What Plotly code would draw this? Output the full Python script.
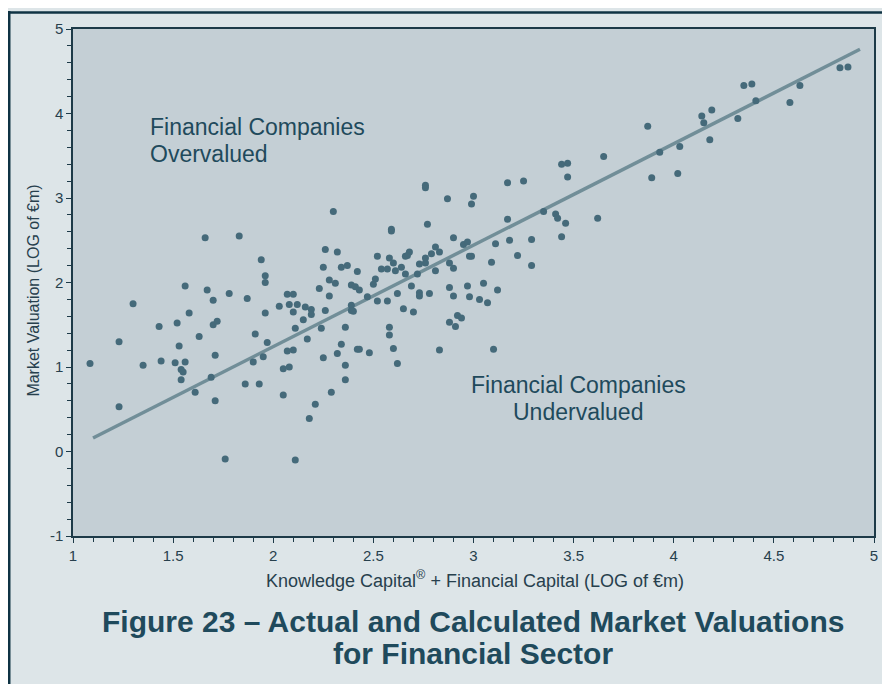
import plotly.graph_objects as go

# ---- data ----
x_vals = [
    1.085, 1.23, 1.23, 1.30, 1.35, 1.43, 1.44, 1.51, 1.56, 1.53, 1.52, 1.56, 1.58, 1.54, 1.55, 1.54,
    1.61, 1.66, 1.63, 1.67, 1.70, 1.70, 1.72, 1.71, 1.69, 1.71, 1.76, 1.83, 1.78, 1.87, 1.91, 1.90,
    1.95, 1.97, 1.86, 1.93, 1.94, 1.96, 1.96, 1.96, 2.03, 2.07, 2.10, 2.08, 2.12, 2.10, 2.16, 2.19,
    2.15, 2.19, 2.11, 2.17, 2.07, 2.10, 2.05, 2.08, 2.05, 2.21, 2.18, 2.11, 2.25, 2.24, 2.26, 2.23,
    2.25, 2.26,
    3.44, 3.47, 3.47, 2.76, 2.76, 2.87, 3.00, 2.99, 3.17, 3.25, 2.30, 2.59, 2.59, 2.77, 3.17, 3.35,
    3.41, 3.42, 3.46, 3.62, 3.44, 3.29, 3.18, 3.11, 3.22, 3.29, 3.09, 2.90, 2.95, 2.97, 2.98, 2.99,
    2.88, 2.90, 2.81, 2.83, 2.79, 2.76, 2.76, 2.73, 2.81, 2.68, 2.66, 2.67, 2.52, 2.58, 2.60, 2.64,
    2.61, 2.57, 2.54, 2.66, 2.72, 2.32, 2.34, 2.37, 2.42, 2.28, 2.31, 2.51, 2.50, 2.39, 2.41, 2.43,
    2.28, 2.47, 2.69, 2.62, 2.73, 2.73, 2.78, 2.88, 2.90, 2.97, 3.05, 3.12, 2.98, 3.03, 3.07, 2.52,
    2.57, 2.39, 2.39, 2.40, 2.65, 2.70, 2.36, 2.58, 2.58, 2.34, 2.32, 2.42, 2.43, 2.48, 2.60, 2.62,
    2.36, 2.36, 2.29, 2.83, 2.88, 2.91, 2.92, 2.94, 3.10,
    4.83, 4.87, 4.63, 4.58, 4.35, 4.39, 4.41, 4.32, 4.14, 4.19, 4.15, 4.18, 4.03, 3.93, 3.87, 3.89,
    4.02, 3.65,
]
y_vals = [
    1.04, 1.30, 0.53, 1.75, 1.02, 1.48, 1.07, 1.05, 1.06, 1.25, 1.52, 1.96, 1.64, 0.97, 0.94, 0.85,
    0.70, 2.53, 1.36, 1.91, 1.79, 1.50, 1.54, 1.14, 0.88, 0.60, -0.09, 2.55, 1.87, 1.81, 1.39, 1.06,
    1.12, 1.29, 0.80, 0.80, 2.27, 2.08, 2.00, 1.64, 1.72, 1.86, 1.86, 1.74, 1.74, 1.65, 1.71, 1.68,
    1.56, 1.62, 1.46, 1.33, 1.19, 1.20, 0.98, 1.00, 0.67, 0.56, 0.39, -0.10, 1.11, 1.46, 1.67, 1.93,
    2.18, 2.39,
    3.40, 3.41, 3.25, 3.12, 3.15, 2.99, 3.02, 2.93, 3.18, 3.20, 2.84, 2.63, 2.61, 2.69, 2.75, 2.84,
    2.81, 2.76, 2.70, 2.76, 2.54, 2.51, 2.50, 2.46, 2.32, 2.20, 2.24, 2.53, 2.45, 2.48, 2.31, 2.31,
    2.23, 2.17, 2.42, 2.36, 2.34, 2.29, 2.23, 2.22, 2.14, 2.36, 2.31, 2.32, 2.31, 2.29, 2.23, 2.18,
    2.14, 2.16, 2.16, 2.10, 2.10, 2.36, 2.18, 2.20, 2.13, 2.03, 1.99, 2.04, 1.98, 1.97, 1.95, 1.91,
    1.84, 1.83, 1.96, 1.87, 1.88, 1.84, 1.87, 1.94, 1.84, 1.96, 1.99, 1.91, 1.83, 1.80, 1.76, 1.78,
    1.78, 1.73, 1.67, 1.66, 1.69, 1.65, 1.47, 1.47, 1.38, 1.27, 1.16, 1.21, 1.21, 1.17, 1.22, 1.04,
    1.02, 0.85, 0.70, 1.20, 1.53, 1.48, 1.61, 1.58, 1.21,
    4.54, 4.55, 4.33, 4.13, 4.33, 4.35, 4.15, 3.94, 3.97, 4.04, 3.89, 3.69, 3.61, 3.54, 3.85, 3.24,
    3.29, 3.49,
]
fit_x = [1.10, 4.93]
fit_y = [0.16, 4.76]

x_ticks = [1, 1.5, 2, 2.5, 3, 3.5, 4, 4.5, 5]
x_labels = ["1", "1.5", "2", "2.5", "3", "3.5", "4", "4.5", "5"]
y_ticks = [-1, 0, 1, 2, 3, 4, 5]
y_labels = ["-1", "0", "1", "2", "3", "4", "5"]

title_lines = ["Figure 23 \u2013 Actual and Calculated Market Valuations", "for Financial Sector"]
x_title = "Knowledge Capital<sup>\u00ae</sup> + Financial Capital (LOG of \u20acm)"
y_title = "Market Valuation (LOG of \u20acm)"
over_lines = ["Financial Companies", "Overvalued"]
under_lines = ["Financial Companies", "Undervalued"]

# ---- styling ----
# the page body adds an 8px white margin at left and top
OFF = 8
W, H = 890 - OFF, 684 - OFF
L, R, T, B = 65, 13, 18, 148
PW, PH = W - L - R, H - T - B


def px(page_x):
    return (page_x - OFF - L) / PW


def py(page_y):
    return (H - B - (page_y - OFF)) / PH


OUTER = "#dde5e8"
PLOT = "#c4cfd5"
NAVY = "#0f3344"
AXIS = "#1d3a48"
DOT = "#456a7a"
FIT = "#718e98"
TXT = "#1f4a5c"
TICK = "#27404d"
FONT = "Liberation Sans, Arial, sans-serif"

fig = go.Figure()
fig.add_trace(go.Scatter(x=fit_x, y=fit_y, mode="lines",
                         line=dict(color=FIT, width=3.5), hoverinfo="skip"))
fig.add_trace(go.Scatter(x=x_vals, y=y_vals, mode="markers",
                         marker=dict(color=DOT, size=7, line=dict(width=0))))

axis_common = dict(showgrid=False, zeroline=False, showline=True, linecolor=AXIS,
                   linewidth=1.5, mirror=True, ticks="outside", ticklen=5,
                   tickwidth=1.2, tickcolor=AXIS,
                   tickfont=dict(family=FONT, size=15, color=TICK))

fig.update_xaxes(range=[1, 5], tickvals=x_ticks, ticktext=x_labels,
                 minor=dict(dtick=0.1, ticks="outside", ticklen=4, tickcolor=AXIS, tickwidth=1.2),
                 **axis_common)
fig.update_yaxes(range=[-1, 5], tickvals=y_ticks, ticktext=y_labels,
                 minor=dict(dtick=0.2, ticks="outside", ticklen=4, tickcolor=AXIS, tickwidth=1.2),
                 **axis_common)

ann_font = dict(family=FONT, size=23, color=TXT)
annotations = [
    dict(x=px(148), y=py(125), xref="paper", yref="paper", text=over_lines[0], showarrow=False,
         xanchor="left", yanchor="middle", font=ann_font),
    dict(x=px(148), y=py(152), xref="paper", yref="paper", text=over_lines[1], showarrow=False,
         xanchor="left", yanchor="middle", font=ann_font),
    dict(x=px(580), y=py(384), xref="paper", yref="paper", text=under_lines[0], showarrow=False,
         xanchor="center", yanchor="middle", font=ann_font),
    dict(x=px(580), y=py(411), xref="paper", yref="paper", text=under_lines[1], showarrow=False,
         xanchor="center", yanchor="middle", font=ann_font),
    dict(x=px(477), y=py(580), xref="paper", yref="paper", text=x_title, showarrow=False,
         xanchor="center", yanchor="middle", font=dict(family=FONT, size=18, color=TICK)),
    dict(x=px(33), y=py(289), xref="paper", yref="paper", text=y_title, showarrow=False,
         textangle=-90, xanchor="center", yanchor="middle",
         font=dict(family=FONT, size=16, color=TICK)),
    dict(x=px(474), y=py(622), xref="paper", yref="paper", text="<b>" + title_lines[0] + "</b>",
         showarrow=False, xanchor="center", yanchor="middle",
         font=dict(family=FONT, size=30, color=TXT)),
    dict(x=px(474), y=py(654), xref="paper", yref="paper", text="<b>" + title_lines[1] + "</b>",
         showarrow=False, xanchor="center", yanchor="middle",
         font=dict(family=FONT, size=30, color=TXT)),
]

shapes = [
    # navy frame lines at the left and top edges
    dict(type="line", xref="paper", yref="paper", x0=px(9), x1=px(9), y0=py(8), y1=py(700),
         line=dict(color=NAVY, width=2.5)),
    dict(type="line", xref="paper", yref="paper", x0=px(8), x1=px(900), y0=py(9.5), y1=py(9.5),
         line=dict(color=NAVY, width=2.5)),
]

fig.update_layout(
    width=W, height=H, autosize=False,
    margin=dict(l=L, r=R, t=T, b=B),
    paper_bgcolor=OUTER, plot_bgcolor=PLOT,
    showlegend=False,
    annotations=annotations,
    shapes=shapes,
)

fig.write_html("out.html")
